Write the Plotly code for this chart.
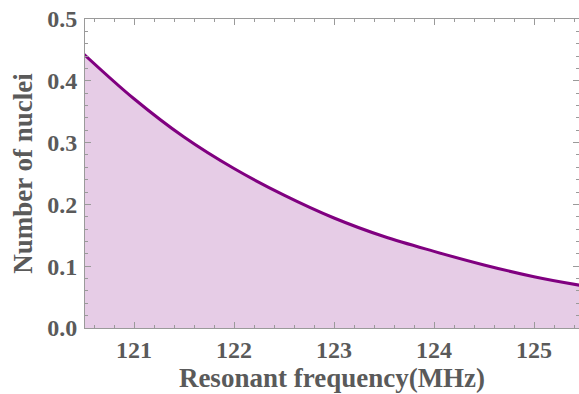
import plotly.graph_objects as go

freq_mhz = [120.5, 121.0, 121.5, 122.0, 122.5, 123.0, 123.5, 124.0, 124.5, 125.0, 125.5]
nuclei = [0.443, 0.371, 0.309, 0.258, 0.215, 0.178, 0.148, 0.124, 0.102, 0.083, 0.068]

x_title = "Resonant frequency(MHz)"
y_title = "Number of nuclei"
x_ticks = [121, 122, 123, 124, 125]
y_ticks = [0.0, 0.1, 0.2, 0.3, 0.4, 0.5]
y_tick_text = ["0.0", "0.1", "0.2", "0.3", "0.4", "0.5"]

line_color = "#800080"
fill_color = "#E6CCE6"
text_color = "#5a5a5a"
axis_color = "#9a9a9a"
font_family = "Liberation Serif"

fig = go.Figure()
fig.add_trace(go.Scatter(
    x=freq_mhz, y=nuclei, mode="lines",
    line=dict(color=line_color, width=3, shape="spline", smoothing=1.0),
    fill="tozeroy", fillcolor=fill_color,
    hoverinfo="skip", showlegend=False,
))

tick_font = dict(family=font_family, size=24, color=text_color, weight="bold")
title_font = dict(family=font_family, size=27, color=text_color, weight="bold")

axis_common = dict(
    showgrid=False, zeroline=False,
    showline=True, linecolor=axis_color, linewidth=1, mirror="allticks",
    ticks="inside", tickcolor=axis_color, ticklen=6, tickwidth=1,
    tickfont=tick_font,
)

fig.update_xaxes(
    range=[120.51, 125.45], tickvals=x_ticks,
    minor=dict(dtick=0.2, ticks="inside", ticklen=3, tickcolor=axis_color, showgrid=False),
    title=dict(text=x_title, font=title_font, standoff=6),
    **axis_common,
)
fig.update_yaxes(
    range=[0, 0.5], tickvals=y_ticks, ticktext=y_tick_text,
    minor=dict(dtick=0.02, ticks="inside", ticklen=3, tickcolor=axis_color, showgrid=False),
    title=dict(text=y_title, font=title_font, standoff=6),
    ticklabelstandoff=2,
    **axis_common,
)

fig.update_layout(
    width=579, height=394,
    margin=dict(l=85, r=0, t=19, b=66),
    paper_bgcolor="white", plot_bgcolor="white",
    font=dict(family=font_family, color=text_color),
)

fig.write_html("out.html")
